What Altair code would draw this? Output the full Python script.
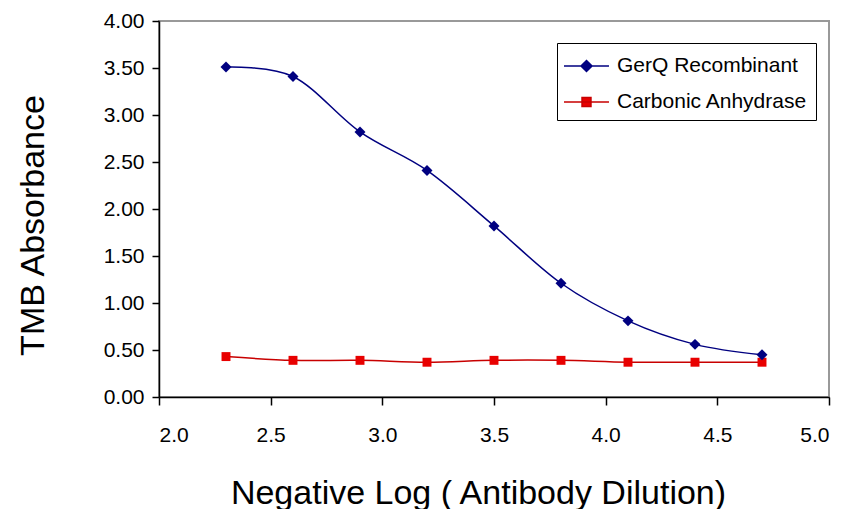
import altair as alt
import pandas as pd

# ---- data ----
dilution = [2.3, 2.6, 2.9, 3.2, 3.5, 3.8, 4.1, 4.4, 4.7]
gerq = [3.51, 3.41, 2.82, 2.41, 1.82, 1.21, 0.81, 0.56, 0.45]
carbonic = [0.43, 0.39, 0.39, 0.37, 0.39, 0.39, 0.37, 0.37, 0.37]
series_names = ["GerQ Recombinant", "Carbonic Anhydrase"]
x_ticks = [2.0, 2.5, 3.0, 3.5, 4.0, 4.5, 5.0]
y_ticks = [0.0, 0.5, 1.0, 1.5, 2.0, 2.5, 3.0, 3.5, 4.0]

df = pd.DataFrame({
    "x": dilution + dilution,
    "y": gerq + carbonic,
    "series": [series_names[0]] * len(gerq) + [series_names[1]] * len(carbonic),
})

FONT = "Liberation Sans"
NAVY = "#000080"
RED_LINE = "#c80000"
RED_FILL = "#e80000"

xenc = alt.X(
    "x:Q",
    scale=alt.Scale(domain=[2, 5], nice=False, zero=False),
    axis=alt.Axis(
        values=x_ticks, format=".1f", grid=False,
        title="Negative Log ( Antibody Dilution)",
        tickSize=8, labelPadding=19, labelFontSize=21,
        titleFontSize=34, titleX=319, titleY=106, titleAngle=0,
        titleAlign="center", titleBaseline="alphabetic",
    ),
)
yenc = alt.Y(
    "y:Q",
    scale=alt.Scale(domain=[0, 4], nice=False),
    axis=alt.Axis(
        values=y_ticks, format=".2f", grid=False,
        title="TMB Absorbance",
        tickSize=7, labelPadding=8, labelFontSize=21,
        titleFontSize=34, titleX=-116, titleY=204, titleAngle=270,
        titleAlign="center", titleBaseline="alphabetic",
    ),
)

base = alt.Chart(df)

g = base.transform_filter(alt.datum.series == series_names[0])
c = base.transform_filter(alt.datum.series == series_names[1])

line_g = g.mark_line(interpolate="cardinal", color=NAVY, strokeWidth=1.5).encode(x=xenc, y=yenc)
line_c = c.mark_line(interpolate="cardinal", color=RED_LINE, strokeWidth=1.5).encode(x=xenc, y=yenc)
pts_g = g.mark_point(shape="diamond", filled=True, size=120, color=NAVY, opacity=1).encode(x=xenc, y=yenc)
pts_c = c.mark_point(shape="square", filled=True, size=80, color=RED_FILL, opacity=1).encode(x=xenc, y=yenc)

# legend symbols: line segment with marker
path_g = "M-1.143,0L2.071,0M0.464,-0.393L0.857,0L0.464,0.393L0.071,0Z"
path_c = "M-1.143,0L2.071,0M0.144,-0.32L0.784,-0.32L0.784,0.32L0.144,0.32Z"

leg = dict(
    orient="none", legendX=398, legendY=22, title=None,
    labelFont=FONT, labelFontSize=21, labelColor="black", labelOffset=22,
    labelLimit=400,
    symbolSize=784, symbolStrokeWidth=1.5, padding=8, rowPadding=11,
    strokeColor="black", fillColor="white",
)

legend_layer = base.transform_filter("false").mark_point(filled=True, strokeWidth=1.5, opacity=1).encode(
    fill=alt.Fill("series:N", scale=alt.Scale(domain=series_names, range=[NAVY, RED_FILL]), legend=alt.Legend(**leg)),
    stroke=alt.Stroke("series:N", scale=alt.Scale(domain=series_names, range=[NAVY, RED_LINE]), legend=alt.Legend(**leg)),
    shape=alt.Shape("series:N", scale=alt.Scale(domain=series_names, range=[path_g, path_c]), legend=alt.Legend(**leg)),
)

chart = alt.layer(line_c, line_g, pts_c, pts_g, legend_layer).properties(
    width=670, height=376,
    padding={"left": 151, "top": 13, "right": 13, "bottom": 112},
    autosize=alt.AutoSizeParams(type="none"),
    background="white",
).configure_view(
    stroke="#999999", strokeWidth=2,
).configure_axis(
    domainColor="black", domainWidth=1.5, tickColor="black", tickWidth=1.5,
    labelFont=FONT, titleFont=FONT, labelColor="black", titleColor="black",
    titleFontWeight="normal",
)

chart.save("out.html", embed_options={"renderer": "svg", "actions": False})
